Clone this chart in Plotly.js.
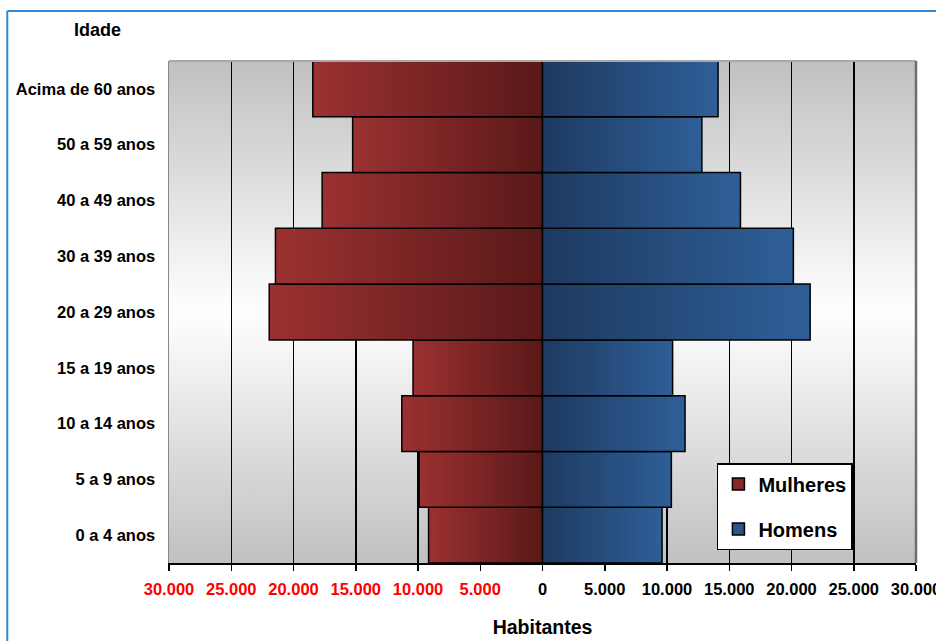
<!DOCTYPE html>
<html>
<head>
<meta charset="utf-8">
<script src="https://cdn.plot.ly/plotly-3.0.1.min.js"></script>
<style>
  html, body { margin: 0; padding: 0; background: #ffffff; }
  #chart { width: 936px; height: 641px; }
</style>
</head>
<body>
<div id="chart"></div>
<script>
// ---- Data ----
const categorias = ['0 a 4 anos', '5 a 9 anos', '10 a 14 anos', '15 a 19 anos', '20 a 29 anos',
                    '30 a 39 anos', '40 a 49 anos', '50 a 59 anos', 'Acima de 60 anos'];
const mulheres = [9150, 9900, 11300, 10400, 21950, 21450, 17700, 15250, 18450];
const homens   = [9600, 10350, 11450, 10450, 21500, 20150, 15900, 12800, 14100];
const tickValores = [-30000, -25000, -20000, -15000, -10000, -5000, 0, 5000, 10000, 15000, 20000, 25000, 30000];
const tickRotulos = ['30.000', '25.000', '20.000', '15.000', '10.000', '5.000', '0',
                     '5.000', '10.000', '15.000', '20.000', '25.000', '30.000'];

const FONT = "'Liberation Sans', Arial, sans-serif";

const ticktext = tickRotulos.map((t, i) =>
  tickValores[i] < 0 ? '<span style="color:#ff0000">' + t + '</span>' : t);

const traces = [
  {
    type: 'bar', orientation: 'h', name: 'Mulheres', legendgroup: 'm',
    y: categorias, x: mulheres.map(v => -v),
    marker: { color: '#8a2828', line: { color: '#000000', width: 1.5 } },
    hoverinfo: 'skip'
  },
  {
    type: 'bar', orientation: 'h', name: 'Homens', legendgroup: 'h',
    y: categorias, x: homens,
    marker: { color: '#2a5688', line: { color: '#000000', width: 1.5 } },
    hoverinfo: 'skip'
  }
];

const layout = {
  width: 936, height: 641,
  margin: { l: 169, r: 20, t: 61, b: 78, pad: 0 },
  paper_bgcolor: '#ffffff',
  plot_bgcolor: '#d8d8d8',
  barmode: 'overlay',
  bargap: 0,
  font: { family: FONT, size: 16.5, color: '#000000', weight: 'bold' },
  showlegend: true,
  legend: {
    x: 0.7335, y: 0.199, xanchor: 'left', yanchor: 'top',
    bgcolor: '#ffffff', bordercolor: '#000000', borderwidth: 1.5,
    font: { family: FONT, size: 20, color: '#000000', weight: 'bold' },
    traceorder: 'grouped', tracegroupgap: 16
  },
  xaxis: {
    range: [-30000, 30000],
    tickmode: 'array', tickvals: tickValores, ticktext: ticktext,
    tickangle: 0, ticklabeloverflow: 'allow',
    showgrid: true, gridcolor: '#000000', gridwidth: 1.5,
    zeroline: true, zerolinecolor: '#000000', zerolinewidth: 2,
    showline: true, linecolor: '#000000', linewidth: 2,
    ticks: 'outside', ticklen: 6, tickwidth: 1.5, tickcolor: '#000000',
    ticklabelstandoff: 4,
    tickfont: { family: FONT, size: 16.5, weight: 'bold' },
    title: { text: 'Habitantes', font: { family: FONT, size: 19.5, weight: 'bold' }, standoff: 24 },
    fixedrange: true
  },
  yaxis: {
    type: 'category',
    categoryorder: 'array', categoryarray: categorias,
    showgrid: false, zeroline: false,
    showline: true, linecolor: '#888888', linewidth: 1.5,
    ticks: '', ticklabelstandoff: 9,
    tickfont: { family: FONT, size: 16.5, weight: 'bold' },
    fixedrange: true
  },
  annotations: [
    { text: 'Idade', xref: 'paper', yref: 'paper', x: -0.0955, y: 1.0618,
      xanchor: 'center', yanchor: 'middle', showarrow: false,
      font: { family: FONT, size: 18, weight: 'bold', color: '#000000' } }
  ],
  shapes: [
    { type: 'line', xref: 'paper', yref: 'paper', x0: 0, x1: 1, y0: 1, y1: 1,
      line: { color: '#a8a8a8', width: 2 } },
    { type: 'line', xref: 'paper', yref: 'paper', x0: 1, x1: 1, y0: 0, y1: 1,
      line: { color: '#6e6e6e', width: 2.5 } },
    { type: 'line', xref: 'paper', yref: 'paper', x0: -0.2165, x1: 1.05, y0: 1.0996, y1: 1.0996,
      line: { color: '#2f8ad6', width: 2 } },
    { type: 'line', xref: 'paper', yref: 'paper', x0: -0.2165, x1: -0.2165, y0: -0.2, y1: 1.0996,
      line: { color: '#2f8ad6', width: 2 } }
  ]
};

const gd = document.getElementById('chart');
Plotly.newPlot(gd, traces, layout, { staticPlot: true, displayModeBar: false }).then(function () {
  const svgNS = 'http://www.w3.org/2000/svg';
  const svg = gd.querySelector('svg.main-svg');
  let defs = svg.querySelector('defs');
  if (!defs) { defs = document.createElementNS(svgNS, 'defs'); svg.insertBefore(defs, svg.firstChild); }
  function grad(id, x2, y2, stops) {
    const g = document.createElementNS(svgNS, 'linearGradient');
    g.setAttribute('id', id);
    g.setAttribute('x1', '0'); g.setAttribute('y1', '0');
    g.setAttribute('x2', x2); g.setAttribute('y2', y2);
    stops.forEach(function (s) {
      const st = document.createElementNS(svgNS, 'stop');
      st.setAttribute('offset', s[0]);
      st.setAttribute('stop-color', s[1]);
      g.appendChild(st);
    });
    defs.appendChild(g);
  }
  grad('gradMulheres', '1', '0', [['0', '#9b3131'], ['1', '#5a1818']]);
  grad('gradHomens', '1', '0', [['0', '#1d3a60'], ['1', '#2f5f98']]);
  grad('gradBg', '0', '1', [['0', '#c0c0c0'], ['0.5', '#ffffff'], ['1', '#c0c0c0']]);

  const bg = gd.querySelector('.bglayer .bg');
  if (bg) bg.style.fill = 'url(#gradBg)';
  const barTraces = gd.querySelectorAll('.barlayer .trace');
  const ids = ['gradMulheres', 'gradHomens'];
  barTraces.forEach(function (tr, i) {
    tr.querySelectorAll('path').forEach(function (p) { p.style.fill = 'url(#' + ids[i] + ')'; });
  });
});
</script>
</body>
</html>
